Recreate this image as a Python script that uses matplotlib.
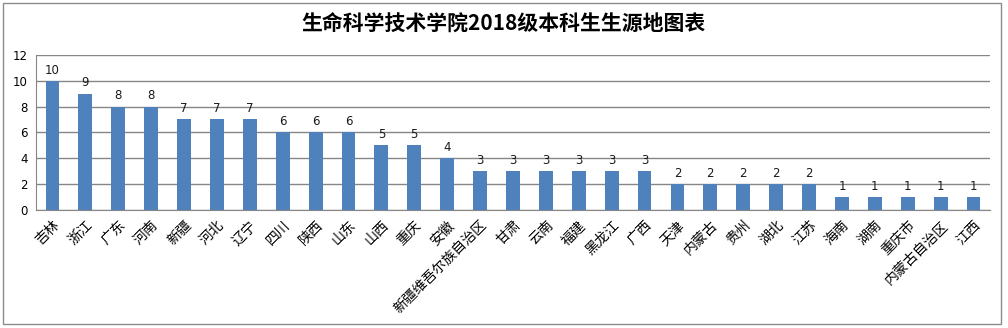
import numpy as np
from matplotlib import pyplot as plt
from matplotlib.patches import Rectangle

plt.rcParams['font.family'] = ['Noto Sans CJK SC', 'DejaVu Sans']

provinces = ['吉林', '浙江', '广东', '河南', '新疆', '河北', '辽宁', '四川', '陕西', '山东',
             '山西', '重庆', '安徽', '新疆维吾尔族自治区', '甘肃', '云南', '福建', '黑龙江', '广西',
             '天津', '内蒙古', '贵州', '湖北', '江苏', '海南', '湖南', '重庆市', '内蒙古自治区', '江西']
students = [10, 9, 8, 8, 7, 7, 7, 6, 6, 6,
            5, 5, 4, 3, 3, 3, 3, 3, 3,
            2, 2, 2, 2, 2, 1, 1, 1, 1, 1]
yticks = [0, 2, 4, 6, 8, 10, 12]

fig = plt.figure(figsize=(10.08, 3.28), dpi=100)
fig.patches.append(Rectangle((0.003, 0.012), 0.990, 0.978, transform=fig.transFigure,
                             fill=False, edgecolor='#8c8c8c', linewidth=1))

ax = fig.add_axes([0.0357, 0.360, 0.9464, 0.4726])
x = np.arange(len(provinces))
rects = ax.bar(x, students, width=0.42, color='#4f81bd', zorder=3)
ax.bar_label(rects, padding=3, fontsize=8.5, color='#1a1a1a', family='DejaVu Sans')

ax.set_xlim(-0.5, len(provinces) - 0.5)
ax.set_ylim(0, 12)
ax.set_yticks(yticks)
ax.set_yticklabels([str(v) for v in yticks], fontsize=8.5, family='DejaVu Sans')
ax.set_xticks(x)
ax.set_xticklabels(provinces, rotation=45, ha='right', va='top', rotation_mode='anchor',
                   fontsize=10)
ax.tick_params(length=0, pad=6)
ax.grid(axis='y', color='#868686', linewidth=1, zorder=0)
for side in ['top', 'right']:
    ax.spines[side].set_visible(False)
for side in ['left', 'bottom']:
    ax.spines[side].set_color('#868686')

fig.text(0.5, 0.925, '生命科学技术学院2018级本科生生源地图表', ha='center', va='center',
         fontsize=15, fontweight='bold')

fig.savefig('out.png', dpi=100)
